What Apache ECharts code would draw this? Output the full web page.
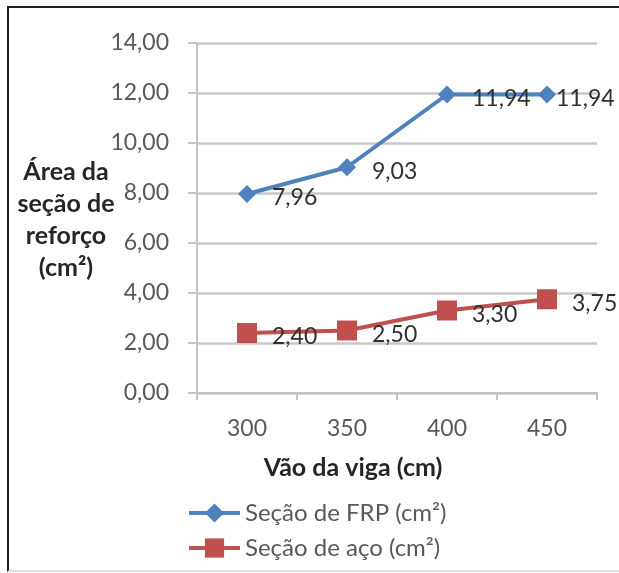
<!DOCTYPE html>
<html>
<head>
<meta charset="utf-8">
<script src="https://cdn.jsdelivr.net/npm/echarts@6/dist/echarts.min.js"></script>
<style>
html,body{margin:0;padding:0;background:#fff;overflow:hidden;}
#frame{position:absolute;left:7px;top:6px;width:700px;height:562px;border-left:2px solid #1e1e1e;border-top:2px solid #1e1e1e;border-bottom:2px solid #dcdcdc;}
#main{position:absolute;left:0;top:0;width:619px;height:573px;}
</style>
</head>
<body>
<div id="frame"></div>
<div id="main"></div>
<script>
const categories = ['300', '350', '400', '450'];
const frpValues = [7.96, 9.03, 11.94, 11.94];
const acoValues = [2.40, 2.50, 3.30, 3.75];
const seriesNames = ['Seção de FRP (cm²)', 'Seção de aço (cm²)'];
const yTitle = 'Área da\nseção de\nreforço\n(cm²)';
const xTitle = 'Vão da viga (cm)';

const fmt = v => Number(v).toFixed(2).replace('.', ',');
const FONT = 'Lato';

const chart = echarts.init(document.getElementById('main'), null, {renderer: 'canvas'});

const labelBase = {
  show: true, position: 'right', distance: 16, offset: [0, 4],
  color: '#303030', fontFamily: FONT, fontSize: 23,
  formatter: p => fmt(p.value)
};

const frpData = frpValues.map((v, i) => i === frpValues.length - 1
  ? {value: v, label: {offset: [-16, 4]}} : v);

chart.setOption({
  animation: false,
  backgroundColor: 'transparent',
  title: [
    {text: yTitle, left: 61, top: 151, textAlign: 'center',
     textStyle: {fontFamily: FONT, fontWeight: 'bold', fontSize: 25, lineHeight: 32, color: '#262626'}},
    {text: xTitle, left: 348, top: 450, textAlign: 'center',
     textStyle: {fontFamily: FONT, fontWeight: 'bold', fontSize: 25, color: '#262626'}}
  ],
  grid: {left: 197, right: 22, top: 43, bottom: 180, containLabel: false},
  legend: {
    orient: 'vertical', left: 187, top: 501, padding: 0,
    itemWidth: 51, itemHeight: 24, itemGap: 11,
    data: seriesNames,
    lineStyle: {width: 4},
    textStyle: {fontFamily: FONT, fontSize: 24, color: '#595959', lineHeight: 24}
  },
  xAxis: {
    type: 'category', data: categories, boundaryGap: true,
    axisLine: {show: true, lineStyle: {color: '#c4c4c4', width: 2}},
    axisTick: {show: true, length: 7, lineStyle: {color: '#c4c4c4', width: 2}},
    axisLabel: {margin: 24, fontFamily: FONT, fontSize: 23, color: '#595959'},
    splitLine: {show: false}
  },
  yAxis: {
    type: 'value', min: 0, max: 14, interval: 2,
    axisLine: {show: true, lineStyle: {color: '#c4c4c4', width: 2}},
    axisTick: {show: true, inside: false, length: 9, lineStyle: {color: '#c4c4c4', width: 2}},
    axisLabel: {margin: 28, fontFamily: FONT, fontSize: 23, color: '#595959', formatter: v => fmt(v)},
    splitLine: {show: true, lineStyle: {color: '#c8c8c8', width: 2.5}}
  },
  series: [
    {
      name: seriesNames[0], type: 'line', data: frpData,
      symbol: 'diamond', symbolSize: 18,
      lineStyle: {color: '#4F81BD', width: 4},
      itemStyle: {color: '#4F81BD'},
      label: labelBase, z: 3
    },
    {
      name: seriesNames[1], type: 'line', data: acoValues,
      symbol: 'rect', symbolSize: 20,
      lineStyle: {color: '#C0504D', width: 4},
      itemStyle: {color: '#C0504D'},
      label: Object.assign({}, labelBase, {distance: 15}), z: 2
    }
  ]
});
</script>
</body>
</html>
